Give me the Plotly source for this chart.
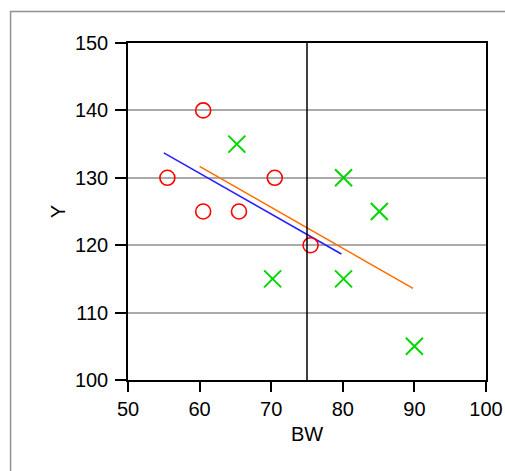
import plotly.graph_objects as go

# Group A (open circles)
bw_a = [55.5, 60.5, 60.5, 65.5, 70.5, 75.5]
y_a = [130, 140, 125, 125, 130, 120]

# Group B (crosses)
bw_b = [65.2, 70.2, 80.1, 80.1, 85.1, 90.0]
y_b = [135, 115, 130, 115, 125, 105]

# Fitted lines (common slope) for each group
fit_a_x = [55.0, 79.8]
fit_a_y = [133.7, 118.7]
fit_b_x = [60.0, 89.8]
fit_b_y = [131.7, 113.6]

ref_bw = 75
x_ticks = [50, 60, 70, 80, 90, 100]
y_ticks = [100, 110, 120, 130, 140, 150]

FONT = "Liberation Sans, Arial, sans-serif"

fig = go.Figure()

fig.add_trace(go.Scatter(
    x=fit_a_x, y=fit_a_y, mode="lines",
    line=dict(color="rgb(40,30,255)", width=1.6), hoverinfo="skip"))
fig.add_trace(go.Scatter(
    x=fit_b_x, y=fit_b_y, mode="lines",
    line=dict(color="rgb(255,110,0)", width=1.6), hoverinfo="skip"))

fig.add_trace(go.Scatter(
    x=bw_a, y=y_a, mode="markers",
    marker=dict(symbol="circle-open", size=15, color="rgb(255,0,0)",
                line=dict(width=1.6, color="rgb(255,0,0)"))))
fig.add_trace(go.Scatter(
    x=bw_b, y=y_b, mode="markers",
    marker=dict(symbol="x-thin-open", size=17, color="rgb(0,215,0)",
                line=dict(width=2, color="rgb(0,215,0)"))))

# vertical reference line at BW = 75
fig.add_shape(type="line", xref="x", yref="y",
              x0=ref_bw, x1=ref_bw, y0=100, y1=150,
              line=dict(color="black", width=1.5))

# outer gray frame
fig.add_shape(type="rect", xref="paper", yref="paper",
              x0=-0.328, x1=1.2, y0=-0.4, y1=1.0935,
              line=dict(color="rgb(145,145,145)", width=1.5), layer="below")

fig.update_layout(
    width=505, height=471, autosize=False,
    margin=dict(l=128, r=19, t=43, b=91),
    paper_bgcolor="white", plot_bgcolor="white",
    showlegend=False,
    font=dict(family=FONT, size=20, color="black"),
)

fig.update_xaxes(
    range=[50, 100], tickvals=x_ticks, ticktext=[str(v) for v in x_ticks],
    tickfont=dict(size=20), automargin=False,
    showgrid=False, zeroline=False,
    showline=True, linecolor="black", linewidth=1.5, mirror=True,
    ticks="outside", ticklen=10, tickwidth=1.5, tickcolor="black",
    title=dict(text="BW", standoff=8, font=dict(size=20)),
)
fig.update_yaxes(
    range=[100, 150], tickvals=y_ticks, ticktext=[str(v) for v in y_ticks],
    tickfont=dict(size=20), automargin=False, ticklabelstandoff=3,
    showgrid=True, gridcolor="rgb(170,170,170)", gridwidth=1.5,
    zeroline=False,
    showline=True, linecolor="black", linewidth=1.5, mirror=True,
    ticks="outside", ticklen=11, tickwidth=1.5, tickcolor="black",
    title=dict(text="Y", standoff=4, font=dict(size=20)),
)

fig.write_html("out.html")
